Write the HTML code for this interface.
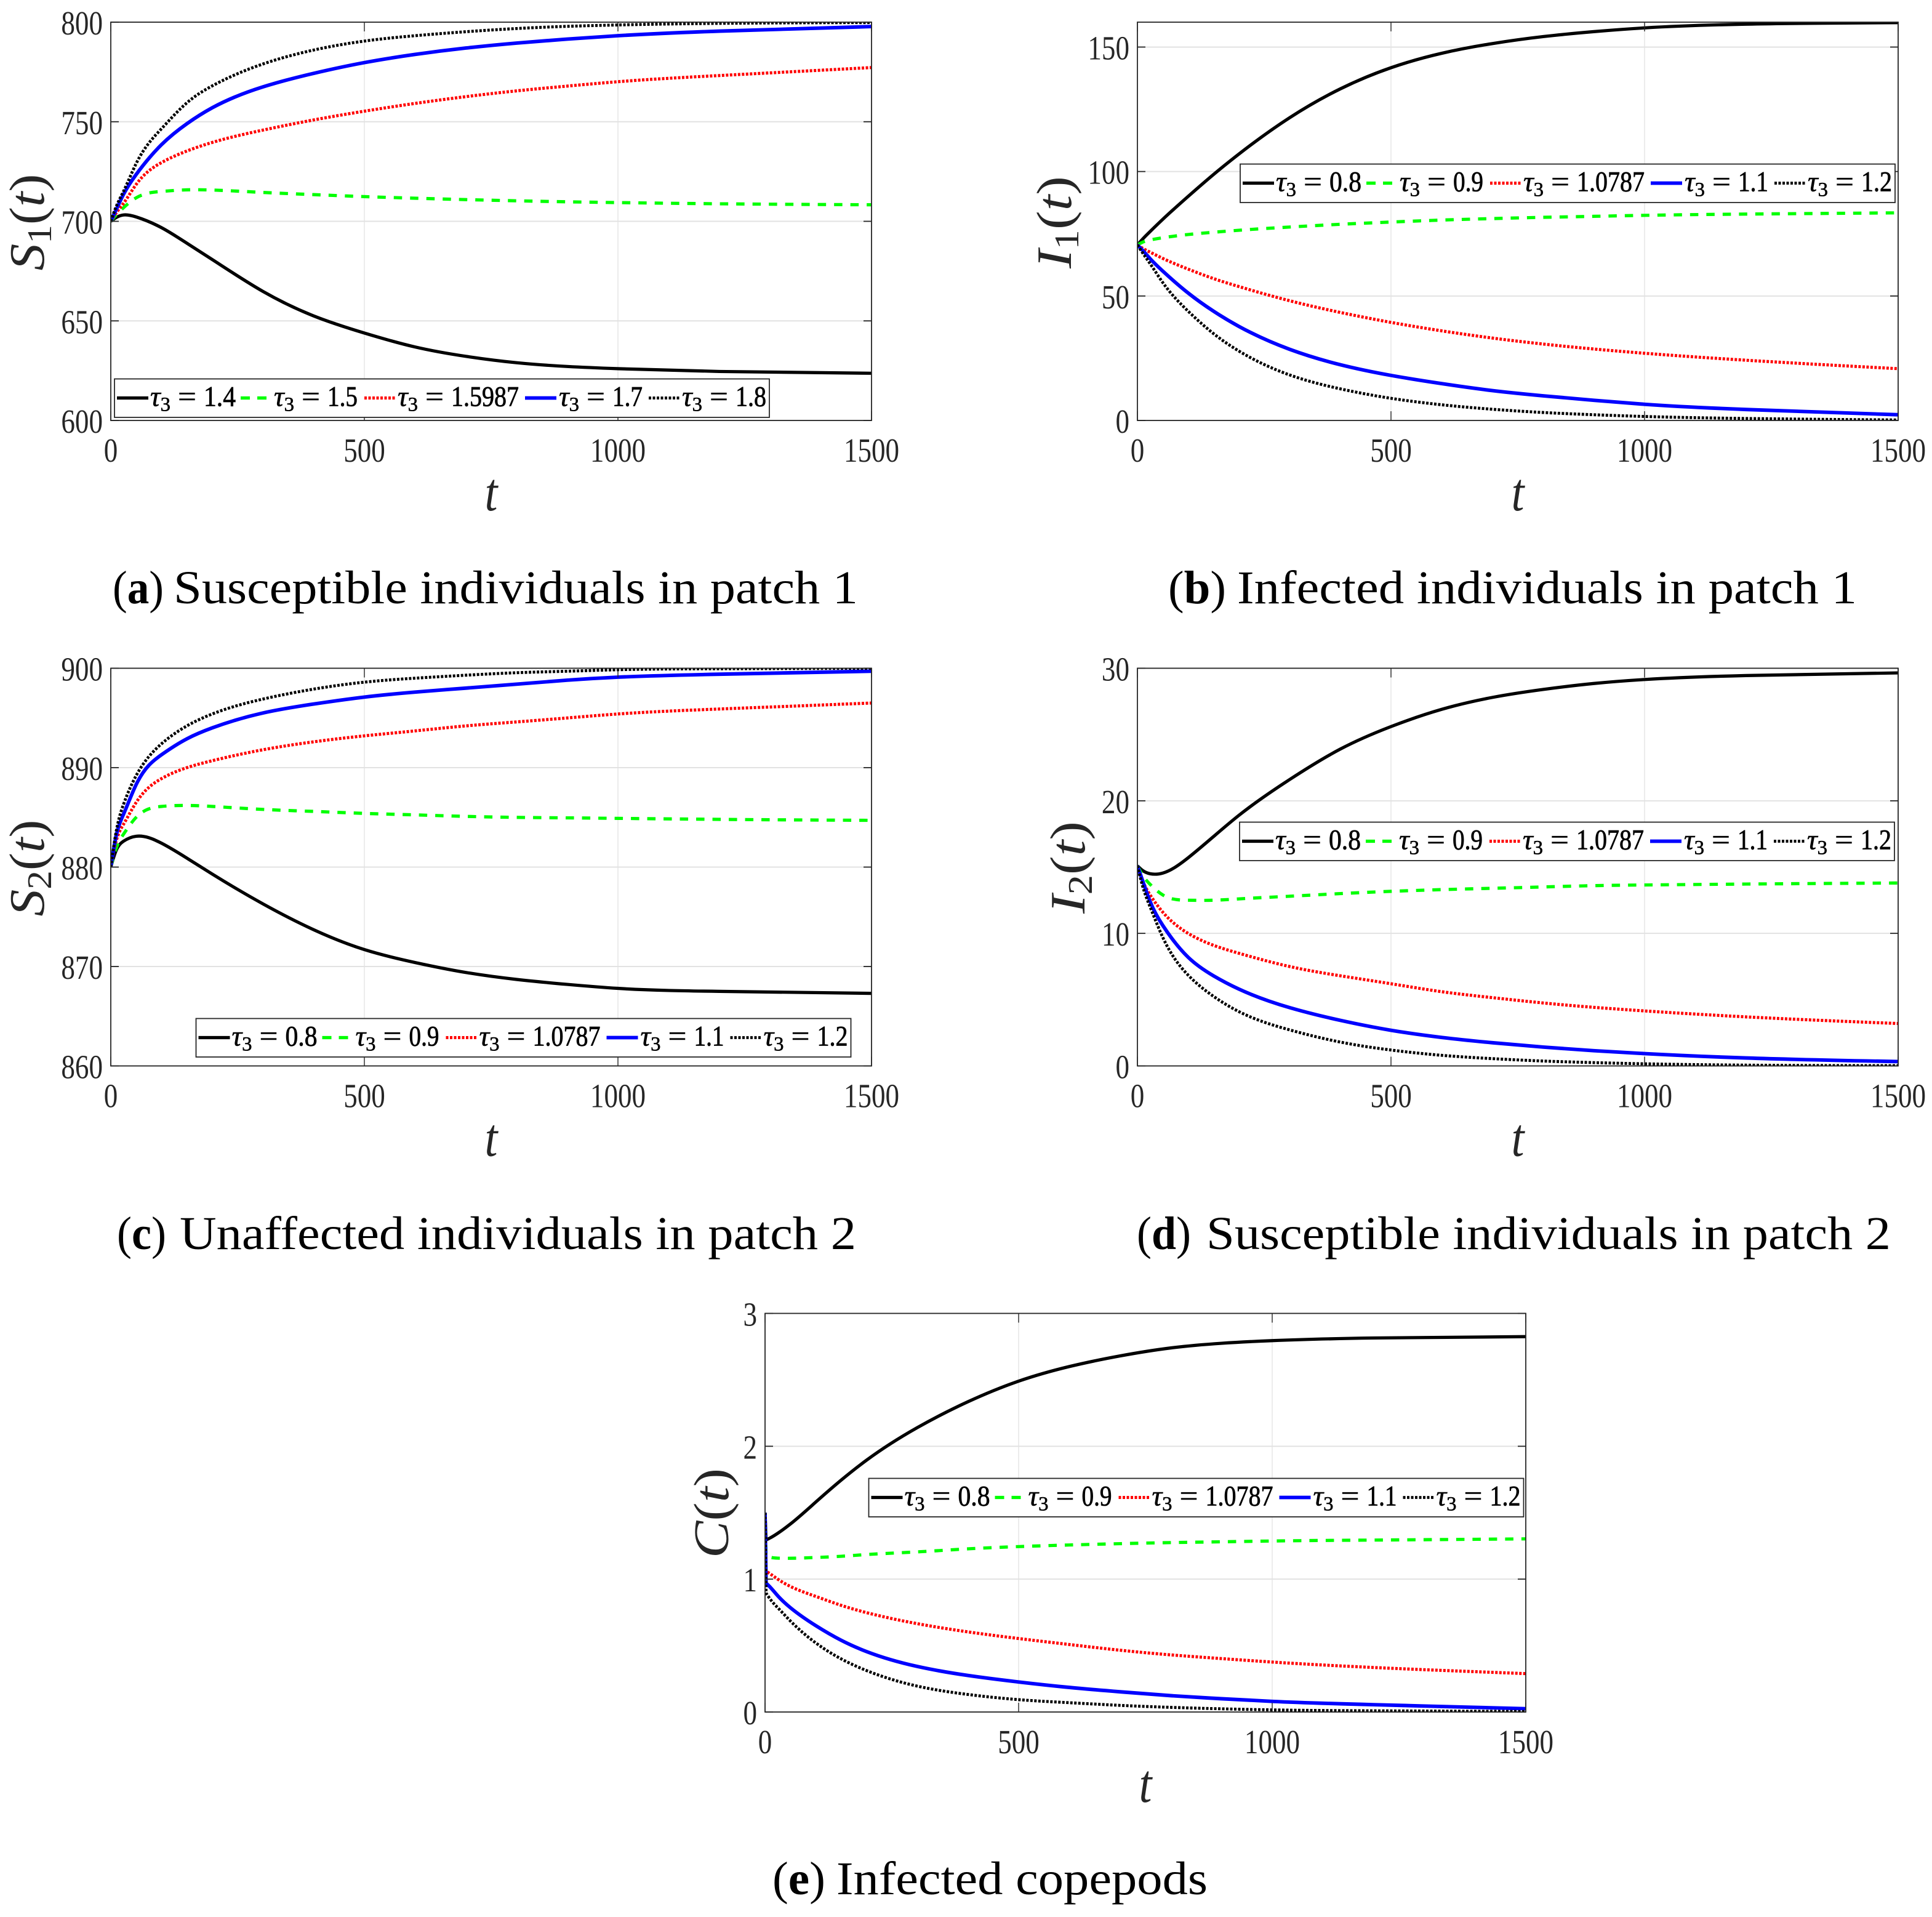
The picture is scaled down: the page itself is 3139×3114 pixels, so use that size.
<!DOCTYPE html>
<html lang="en">
<head>
<meta charset="utf-8">
<title>Dynamics for varying tau3</title>
<style>
html,body{margin:0;padding:0;background:#fff}
svg{display:block}
text{font-family:"Liberation Serif",serif}
</style>
</head>
<body>
<svg id="figure" xmlns="http://www.w3.org/2000/svg" width="3139" height="3114" viewBox="0 0 3139 3114"><rect width="3139" height="3114" fill="#ffffff"/><defs id="defs"></defs></svg>
<script>
// ---------- shared time samples ----------
const tGrid  = [0,10,25,50,100,150,200,300,400,500,600,700,800,900,1000,1200,1500];
const tGridE = [0,2,10,25,50,100,150,200,300,400,500,600,700,800,900,1000,1200,1500];
const xTicks = [0,500,1000,1500];

// ---------- panel a: S1(t) ----------
const aTicks = [600,650,700,750,800];
const aTaus  = ["1.4","1.5","1.5987","1.7","1.8"];
const aBlack = [700,701.8,703.2,702.2,696.8,689,680.8,664.8,652.5,643.9,636.9,632.2,629,627.1,626,624.6,623.7];
const aGreen = [700,703,706.8,711.8,715,715.8,715.7,714.5,713.4,712.4,711.6,710.9,710.3,709.8,709.4,708.8,708.3];
const aRed   = [700,704,709,718.5,729.5,735.3,739.6,745.8,750.9,755.3,759.2,762.6,765.5,767.9,770.1,773.2,777.2];
const aBlue  = [700,705.5,713.5,723.5,738.5,749,757,767.5,774.3,779.7,783.8,787,789.5,791.5,793.2,795.5,797.8];
const aDot   = [700,707,715,729,746.5,759.5,768,779,786,790.5,793.2,795.2,796.8,797.9,798.6,799.4,799.8];

// ---------- panel b: I1(t) ----------
const bTicks = [0,50,100,150];
const bTaus  = ["0.8","0.9","1.0787","1.1","1.2"];
const bBlack = [70.5,72.8,75.9,80.8,90,98.8,107,121.6,133.2,141.7,147.5,151.4,154.2,156.2,157.7,159.2,159.8];
const bGreen = [70.5,71.6,72.5,73.4,74.7,75.6,76.4,77.7,78.8,79.7,80.5,81.1,81.6,82,82.4,82.9,83.4];
const bRed   = [70.5,69.2,67.6,65.1,60.8,57,53.8,48.1,43.4,39.4,36,33.1,30.7,28.7,27,24.2,20.8];
const bBlue  = [70.5,68.4,65,60,51.2,43.9,37.8,28.6,22.4,18.1,14.8,12,9.9,8.1,6.5,4.4,2.3];
const bDot   = [70.5,67.4,63,55.4,43.9,34.9,27.9,18.3,12.7,8.9,6.3,4.5,3.2,2.3,1.6,0.8,0.2];

// ---------- panel c: S2(t) ----------
const cTicks = [860,870,880,890,900];
const cTaus  = ["0.8","0.9","1.0787","1.1","1.2"];
const cBlack = [880,881.6,882.6,883.1,882.4,880.9,879.3,876.3,873.7,871.7,870.4,869.4,868.7,868.2,867.8,867.5,867.3];
const cGreen = [880,881.8,883.3,885,886.1,886.2,886.1,885.8,885.6,885.4,885.25,885.1,885,884.95,884.9,884.8,884.7];
const cRed   = [880,882.5,884.3,886.5,888.9,890,890.7,891.8,892.6,893.2,893.7,894.2,894.6,895,895.4,895.9,896.5];
const cBlue  = [880,883,885.3,888.3,891.3,892.9,894,895.5,896.4,897.1,897.6,898,898.4,898.8,899.1,899.4,899.7];
const cDot   = [880,883.4,886.3,889.2,892.4,894.2,895.4,896.9,897.9,898.6,899,899.3,899.55,899.7,899.85,899.95,900];

// ---------- panel d: I2(t) ----------
const dTicks = [0,10,20,30];
const dTaus  = ["0.8","0.9","1.0787","1.1","1.2"];
const dBlack = [15.1,14.75,14.5,14.55,15.7,17.3,18.9,21.6,23.9,25.6,26.9,27.8,28.4,28.85,29.15,29.45,29.65];
const dGreen = [15.1,14.4,13.7,12.9,12.5,12.5,12.6,12.8,13,13.17,13.3,13.4,13.5,13.6,13.65,13.72,13.8];
const dRed   = [15.1,14,12.9,11.6,10,9.1,8.5,7.5,6.8,6.2,5.6,5.15,4.75,4.42,4.15,3.7,3.2];
const dBlue  = [15.1,14,12.4,10.6,8.2,6.8,5.8,4.4,3.44,2.69,2.15,1.75,1.42,1.15,0.93,0.6,0.33];
const dDot   = [15.1,13.6,12,9.7,6.85,5.25,4.1,2.72,1.8,1.2,0.8,0.55,0.37,0.25,0.16,0.06,0.02];

// ---------- panel e: C(t) ----------
const eTicks = [0,1,2,3];
const eTaus  = ["0.8","0.9","1.0787","1.1","1.2"];
const eBlack = [1.5,1.295,1.31,1.345,1.415,1.58,1.745,1.895,2.14,2.335,2.49,2.6,2.68,2.74,2.775,2.795,2.815,2.825];
const eGreen = [1.5,1.175,1.165,1.158,1.157,1.163,1.172,1.185,1.205,1.228,1.245,1.257,1.267,1.275,1.281,1.287,1.294,1.303];
const eRed   = [1.5,1.06,1.04,1,0.945,0.87,0.803,0.748,0.665,0.603,0.553,0.508,0.465,0.43,0.402,0.376,0.335,0.289];
const eBlue  = [1.5,0.97,0.94,0.875,0.785,0.65,0.54,0.455,0.343,0.275,0.226,0.185,0.152,0.123,0.1,0.08,0.055,0.025];
const eDot   = [1.5,0.895,0.85,0.785,0.685,0.52,0.4,0.312,0.195,0.132,0.093,0.07,0.05,0.035,0.024,0.016,0.009,0.004];

const NS = "http://www.w3.org/2000/svg";
const svg = document.getElementById("figure");
const defs = document.getElementById("defs");

function make(tag, attrs, parent) {
  const el = document.createElementNS(NS, tag);
  for (const k in attrs) el.setAttribute(k, attrs[k]);
  (parent || svg).appendChild(el);
  return el;
}
function span(parent, str, attrs) {
  const s = document.createElementNS(NS, "tspan");
  for (const k in (attrs || {})) s.setAttribute(k, attrs[k]);
  s.textContent = str;
  parent.appendChild(s);
  return s;
}

// Natural cubic spline through the samples, mapped through the axis functions.
// spike = number of leading samples joined with straight segments.
function curvePath(ts, vs, xf, yf, spike) {
  const X = ts.map(xf), Y = vs.map(yf);
  const xs = X.slice(spike), ys = Y.slice(spike), n = xs.length;
  const h = [], d = [];
  for (let i = 0; i < n - 1; i++) { h.push(xs[i + 1] - xs[i]); d.push((ys[i + 1] - ys[i]) / h[i]); }
  const a = new Array(n).fill(0), b = new Array(n).fill(1), c = new Array(n).fill(0), r = new Array(n).fill(0);
  for (let i = 1; i < n - 1; i++) {
    a[i] = h[i - 1]; b[i] = 2 * (h[i - 1] + h[i]); c[i] = h[i]; r[i] = 6 * (d[i] - d[i - 1]);
  }
  for (let i = 1; i < n; i++) {
    const w = a[i] / b[i - 1];
    b[i] -= w * c[i - 1];
    r[i] -= w * r[i - 1];
  }
  const s = new Array(n);
  s[n - 1] = r[n - 1] / b[n - 1];
  for (let i = n - 2; i >= 0; i--) s[i] = (r[i] - c[i] * s[i + 1]) / b[i];
  const m = new Array(n);
  for (let i = 0; i < n - 1; i++) m[i] = d[i] - h[i] * (2 * s[i] + s[i + 1]) / 6;
  m[n - 1] = d[n - 2] + h[n - 2] * (s[n - 2] + 2 * s[n - 1]) / 6;

  let p = "M" + X[0].toFixed(2) + " " + Y[0].toFixed(2);
  for (let i = 1; i <= spike; i++) p += "L" + X[i].toFixed(2) + " " + Y[i].toFixed(2);
  for (let i = 0; i < n - 1; i++) {
    const t = h[i] / 3;
    p += "C" + (xs[i] + t).toFixed(2) + " " + (ys[i] + m[i] * t).toFixed(2) + " " +
      (xs[i + 1] - t).toFixed(2) + " " + (ys[i + 1] - m[i + 1] * t).toFixed(2) + " " +
      xs[i + 1].toFixed(2) + " " + ys[i + 1].toFixed(2);
  }
  return p;
}

const seriesStyle = [
  { key: "solid-black", color: "#000000", width: 5.2, dash: "" },
  { key: "dashed-green", color: "#00ff00", width: 5.2, dash: "13.5 13" },
  { key: "dotted-red", color: "#ff0000", width: 5, dash: "4 2.5" },
  { key: "solid-blue", color: "#0000ff", width: 5.8, dash: "" },
  { key: "dotted-black", color: "#000000", width: 4.8, dash: "4 2.5" }
];

function drawLegendEntry(g, L, C, idx, tau, h0, h1, t0, t1) {
  const st = seriesStyle[idx];
  const handle = make("line", { x1: L + h0, x2: L + h1, y1: C, y2: C, stroke: st.color, "stroke-width": st.width }, g);
  
  
  if (idx === 1) handle.setAttribute("stroke-dasharray", "15 12");
  else if (st.dash) handle.setAttribute("stroke-dasharray", st.dash);

  const sym = make("text", { x: L + t0, y: C + 13, "font-size": 47, fill: "#000", stroke: "#000", "stroke-width": 0.6, textLength: 33, lengthAdjust: "spacingAndGlyphs" }, g);
  
  
  span(sym, "τ", { "font-style": "italic" });
  span(sym, "3", { dy: 8, "font-size": 33 });

  const eq = make("text", { x: L + t0 + 45, y: C + 13, "font-size": 47, fill: "#000", stroke: "#000", "stroke-width": 0.6, textLength: 30, lengthAdjust: "spacingAndGlyphs" }, g);
  
  
  eq.textContent = "=";

  const val = make("text", { x: L + t0 + 87, y: C + 13, "font-size": 47, fill: "#000", stroke: "#000", "stroke-width": 0.8, textLength: (t1 - t0) - 87, lengthAdjust: "spacingAndGlyphs" }, g);
  
  
  val.textContent = tau;
}

function drawPanel(cfg) {
  const { id, left, right, top, bottom, ymin, ymax, ts, series, ticks, taus, legendLeft, legendTop } = cfg;
  const g = make("g", {});
  
  
  const xf = t => left + (t / 1500) * (right - left);
  const yf = v => bottom - ((v - ymin) / (ymax - ymin)) * (bottom - top);

  const clip = make("clipPath", { id: "clip-" + id }, defs);
  make("rect", { x: left, y: top, width: right - left, height: bottom - top }, clip);

  // grid
  xTicks.forEach(t => {
    const l = make("line", { x1: xf(t), x2: xf(t), y1: top, y2: bottom, stroke: "#e2e2e2", "stroke-width": 1.3 }, g);
    
    
  });
  ticks.forEach(v => {
    const l = make("line", { x1: left, x2: right, y1: yf(v), y2: yf(v), stroke: "#e2e2e2", "stroke-width": 2 }, g);
    
    
  });

  // series
  const sg = make("g", { "clip-path": "url(#clip-" + id + ")" }, g);
  
  
  series.forEach((vals, i) => {
    const st = seriesStyle[i];
    const p = make("path", { d: curvePath(ts, vals, xf, yf, cfg.spike || 0), fill: "none", stroke: st.color, "stroke-width": st.width, "stroke-linejoin": "round" }, sg);
    
    
    if (st.dash) p.setAttribute("stroke-dasharray", st.dash);
  });

  // box and tick marks
  const box = make("rect", { x: left, y: top, width: right - left, height: bottom - top, fill: "none", stroke: "#262626", "stroke-width": 1.8 }, g);
  
  
  xTicks.forEach(t => {
    [[bottom, bottom - 15], [top, top + 15]].forEach(pair => {
      const m = make("line", { x1: xf(t), x2: xf(t), y1: pair[0], y2: pair[1], stroke: "#262626", "stroke-width": 1.4 }, g);
      
      
    });
    const lb = make("text", { transform: "translate(" + xf(t) + "," + (bottom + 67) + ") scale(.82,1)", "text-anchor": "middle", "font-size": 55, fill: "#262626" }, g);
    
    
    lb.textContent = t;
  });
  ticks.forEach(v => {
    [[left, left + 13], [right, right - 13]].forEach(pair => {
      const m = make("line", { x1: pair[0], x2: pair[1], y1: yf(v), y2: yf(v), stroke: "#262626", "stroke-width": 1.8 }, g);
      
      
    });
    const lb = make("text", { transform: "translate(" + (left - 13) + "," + (yf(v) + 20) + ") scale(.82,1)", "text-anchor": "end", "font-size": 55, fill: "#262626" }, g);
    
    
    lb.textContent = v;
  });

  // x axis title
  const xt = make("text", { transform: "translate(" + ((left + right) / 2) + "," + (bottom + 146) + ") scale(.85,1)", "text-anchor": "middle", "font-size": 88, "font-style": "italic", fill: "#262626" }, g);
  
  
  xt.textContent = "t";

  // y axis title
  const yc = cfg.ylabelCy, yb = cfg.ylabelX;
  const yt = make("text", { transform: "rotate(-90 " + yb + " " + yc + ")", x: yb, y: yc, "text-anchor": "middle", "font-size": 80, fill: "#262626", textLength: cfg.ylabelLen, lengthAdjust: "spacingAndGlyphs" }, g);
  
  
  span(yt, cfg.ylabelVar, { "font-style": "italic" });
  if (cfg.ylabelSub) {
    span(yt, cfg.ylabelSub, { dy: 12, "font-size": 56 });
    span(yt, "(", { dy: -12 });
  } else {
    span(yt, "(");
  }
  span(yt, "t", { "font-style": "italic" });
  span(yt, ")");

  // legend
  const lg = make("g", {}, g);
  
  
  const lbx = make("rect", { x: legendLeft, y: legendTop, width: 1064, height: 62.5, fill: "#fff", stroke: "#262626", "stroke-width": 1.8 }, lg);
  
  
  const C = legendTop + 31;
  drawLegendEntry(lg, legendLeft, C, 0, taus[0], 4, 55, 58, 197);
  drawLegendEntry(lg, legendLeft, C, 1, taus[1], 205, 248, 259, 395);
  drawLegendEntry(lg, legendLeft, C, 2, taus[2], 406, 456, 460, 657);
  drawLegendEntry(lg, legendLeft, C, 3, taus[3], 667, 718, 722, 858);
  drawLegendEntry(lg, legendLeft, C, 4, taus[4], 868, 918, 922, 1059);

  // caption: tag and body fitted separately
  const capTag = make("text", { x: cfg.capLeft, y: cfg.capY, "font-size": 76, fill: "#000", textLength: cfg.tagRight - cfg.capLeft, lengthAdjust: "spacingAndGlyphs" }, g);
  
  
  span(capTag, "(");
  span(capTag, id, { "font-weight": "bold" });
  span(capTag, ")");
  const capBody = make("text", { x: cfg.bodyLeft, y: cfg.capY, "font-size": 76, fill: "#000", textLength: cfg.capRight - cfg.bodyLeft, lengthAdjust: "spacingAndGlyphs" }, g);
  
  
  capBody.textContent = cfg.capText;
}

drawPanel({ id: "a", left: 180, right: 1416, top: 36, bottom: 683, ymin: 600, ymax: 800, ts: tGrid,
  series: [aBlack, aGreen, aRed, aBlue, aDot], ticks: aTicks, taus: aTaus, legendLeft: 186, legendTop: 615.5,
  ylabelVar: "S", ylabelSub: "1", ylabelX: 71, ylabelCy: 361, ylabelLen: 157,
  capLeft: 183, tagRight: 266, bodyLeft: 282, capRight: 1394, capY: 980, capText: "Susceptible individuals in patch 1" });

drawPanel({ id: "b", left: 1848, right: 3084, top: 36, bottom: 683, ymin: 0, ymax: 160, ts: tGrid,
  series: [bBlack, bGreen, bRed, bBlue, bDot], ticks: bTicks, taus: bTaus, legendLeft: 2015, legendTop: 266.5,
  ylabelVar: "I", ylabelSub: "1", ylabelX: 1740, ylabelCy: 361, ylabelLen: 150,
  capLeft: 1898, tagRight: 1992, bodyLeft: 2010, capRight: 3017, capY: 980, capText: "Infected individuals in patch 1" });

drawPanel({ id: "c", left: 180, right: 1416, top: 1085.5, bottom: 1731.5, ymin: 860, ymax: 900, ts: tGrid,
  series: [cBlack, cGreen, cRed, cBlue, cDot], ticks: cTicks, taus: cTaus, legendLeft: 318.5, legendTop: 1654.5,
  ylabelVar: "S", ylabelSub: "2", ylabelX: 71, ylabelCy: 1410, ylabelLen: 157,
  capLeft: 190, tagRight: 270, bodyLeft: 292, capRight: 1391, capY: 2029, capText: "Unaffected individuals in patch 2" });

drawPanel({ id: "d", left: 1848, right: 3084, top: 1085.5, bottom: 1731.5, ymin: 0, ymax: 30, ts: tGrid,
  series: [dBlack, dGreen, dRed, dBlue, dDot], ticks: dTicks, taus: dTaus, legendLeft: 2014, legendTop: 1335.5,
  ylabelVar: "I", ylabelSub: "2", ylabelX: 1762, ylabelCy: 1409, ylabelLen: 150,
  capLeft: 1847, tagRight: 1935, bodyLeft: 1960, capRight: 3072, capY: 2029, capText: "Susceptible individuals in patch 2" });

drawPanel({ id: "e", left: 1243, right: 2479, top: 2133.5, bottom: 2781, ymin: 0, ymax: 3, ts: tGridE, spike: 1,
  series: [eBlack, eGreen, eRed, eBlue, eDot], ticks: eTicks, taus: eTaus, legendLeft: 1411.5, legendTop: 2401.5,
  ylabelVar: "C", ylabelSub: "", ylabelX: 1183, ylabelCy: 2458, ylabelLen: 146,
  capLeft: 1255, tagRight: 1341, bodyLeft: 1359, capRight: 1962, capY: 3077, capText: "Infected copepods" });
</script>
</body>
</html>
